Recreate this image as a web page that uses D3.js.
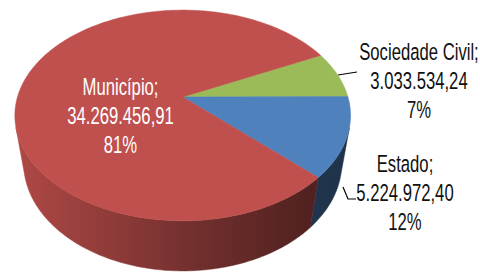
<!DOCTYPE html>
<html>
<head>
<meta charset="utf-8">
<script src="https://cdn.jsdelivr.net/npm/d3@7"></script>
<style>
  body { margin: 0; background: #fff; }
  svg { display: block; }
</style>
</head>
<body>
<div id="chart"></div>
<script>
// data
var categories = ["Sociedade Civil", "Estado", "Município"];
var values = [3033534.24, 5224972.40, 34269456.91];
var colors = ["#9BBB59", "#4F81BD", "#C0504D"];

var width = 480, height = 273;

// 3d pie view (perspective)
var cx = 182.7, cy = 97,
    f = 742, D = 4.49,
    s = 0.618, c = Math.sqrt(1 - s * s),
    depth = 0.39,
    firstSlice = 64;   // degrees, clockwise from 12 o'clock

// label layout
var labelPos = [
    {x: 419, y: 60, fill: "#111", leader: [[338, 75], [357, 72]]},
    {x: 405, y: 172, fill: "#111", leader: [[343, 187], [348, 199], [356, 199]]},
    {x: 120.5, y: 95, fill: "#fff", leader: null}
];
var lineStep = 29;

var data = categories.map(function(d, i) { return {name: d, value: values[i], color: colors[i]}; });
var total = d3.sum(values);

var br = d3.formatLocale({decimal: ",", thousands: ".", grouping: [3], currency: ["R$", ""]});
var fmtValue = br.format(",.2f");

var start = firstSlice * Math.PI / 180;
var pie = d3.pie()
    .sort(null)
    .value(function(d) { return d.value; })
    .startAngle(start)
    .endAngle(start + 2 * Math.PI);
var arcs = pie(data);

// theta: clockwise from 12 o'clock, r: 0..1, z: 0 top, -depth bottom
function project(theta, r, z) {
    var a = Math.PI / 2 - theta;
    var x = r * Math.cos(a), y = r * Math.sin(a);
    var yv = y * s + z * c,
        zv = D + y * c - z * s;
    return [cx + f * x / zv, cy - f * yv / zv];
}

function steps(t0, t1) {
    var n = Math.max(2, Math.ceil(Math.abs(t1 - t0) / (Math.PI / 180)));
    return d3.range(n + 1).map(function(i) { return t0 + (t1 - t0) * i / n; });
}

var line = d3.line().curve(d3.curveLinear);

var svg = d3.select("#chart").append("svg")
    .attr("width", width)
    .attr("height", height);

var defs = svg.append("defs");
var shade = [[0, 0.25], [0.3, 0.85], [0.55, 1.5], [0.9, 2.5], [1, 2.65]];
arcs.forEach(function(d, i) {
    var g = defs.append("linearGradient")
        .attr("id", "side" + i)
        .attr("gradientUnits", "userSpaceOnUse")
        .attr("x1", cx - 170).attr("x2", cx + 168)
        .attr("y1", 0).attr("y2", 0);
    g.selectAll("stop").data(shade).enter().append("stop")
        .attr("offset", function(p) { return p[0]; })
        .attr("stop-color", function(p) { return d3.color(d.data.color).darker(p[1]).formatHex(); });
});

// visible part of the outer wall
var k = 1 / (D * c);
var visLo = Math.acos(-k), visHi = 2 * Math.PI - Math.acos(-k);

var walls = [];
arcs.forEach(function(d, i) {
    [0, 2 * Math.PI].forEach(function(off) {
        var t0 = Math.max(d.startAngle, visLo + off),
            t1 = Math.min(d.endAngle, visHi + off);
        if (t1 > t0) walls.push({i: i, t0: t0, t1: t1});
    });
});

svg.append("g").selectAll("path")
    .data(walls)
    .enter().append("path")
    .attr("d", function(w) {
        var top = steps(w.t0, w.t1).map(function(t) { return project(t, 1, 0); });
        var bottom = steps(w.t1, w.t0).map(function(t) { return project(t, 1, -depth); });
        return line(top.concat(bottom)) + "Z";
    })
    .attr("fill", function(w) { return "url(#side" + w.i + ")"; })
    .attr("stroke", function(w) { return "url(#side" + w.i + ")"; })
    .attr("stroke-width", 0.5);

svg.append("g").selectAll("path")
    .data(arcs)
    .enter().append("path")
    .attr("d", function(d) {
        var pts = [project(0, 0, 0)].concat(steps(d.startAngle, d.endAngle).map(function(t) { return project(t, 1, 0); }));
        return line(pts) + "Z";
    })
    .attr("fill", function(d) { return d.data.color; })
    .attr("stroke", function(d) { return d.data.color; })
    .attr("stroke-width", 0.5);

// leader lines
svg.append("g").selectAll("path")
    .data(labelPos.filter(function(p) { return p.leader; }))
    .enter().append("path")
    .attr("d", function(p) { return line(p.leader); })
    .attr("fill", "none")
    .attr("stroke", "#000")
    .attr("stroke-width", 1.2);

// labels
var labels = svg.append("g").selectAll("g")
    .data(arcs)
    .enter().append("g")
    .attr("transform", function(d, i) { return "translate(" + labelPos[i].x + "," + labelPos[i].y + ") scale(0.71,1)"; });

labels.each(function(d, i) {
    var lines = [d.data.name + ";", fmtValue(d.data.value), Math.round(d.data.value / total * 100) + "%"];
    d3.select(this).selectAll("text")
        .data(lines)
        .enter().append("text")
        .attr("x", 0)
        .attr("y", function(t, j) { return j * lineStep; })
        .attr("text-anchor", "middle")
        .attr("font-family", "'Liberation Sans', Arial, sans-serif")
        .attr("font-size", 23.5)
        .attr("fill", labelPos[i].fill)
        .text(function(t) { return t; });
});
</script>
</body>
</html>
